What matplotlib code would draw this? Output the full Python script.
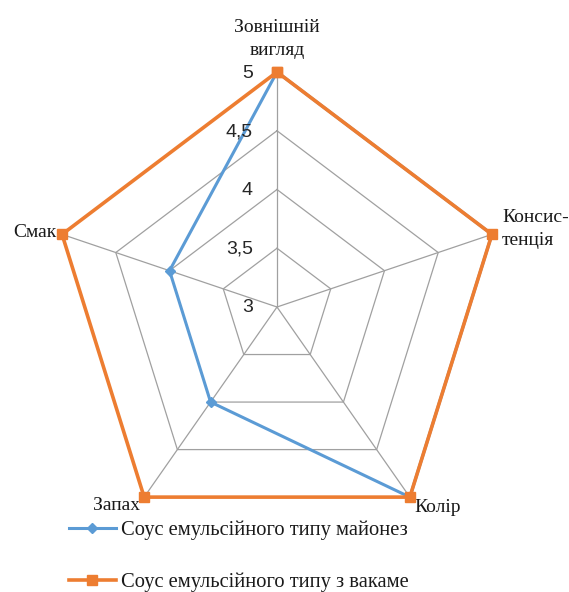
import numpy as np
import matplotlib
matplotlib.use("Agg")
import matplotlib.pyplot as plt

categories = ["Зовнішній\nвигляд", "Консис-\nтенція", "Колір", "Запах", "Смак"]
mayonnaise = [5, 5, 5, 4, 4]
wakame = [5, 5, 5, 5, 5]
series_names = ["Соус емульсійного типу майонез", "Соус емульсійного типу з вакаме"]
ring_values = [3.5, 4, 4.5, 5]
tick_values = [3, 3.5, 4, 4.5, 5]
tick_labels = ["3", "3,5", "4", "4,5", "5"]

SERIF = ["Liberation Serif", "DejaVu Serif"]
SANS = ["Liberation Sans", "DejaVu Sans"]

fig = plt.figure(figsize=(5.69, 5.92), dpi=100)
ax = fig.add_axes([51/569, 50/592, 452/569, 470/592], projection="polar")
ax.set_aspect("auto")
ax.set_theta_offset(np.pi/2)
ax.set_theta_direction(-1)
ax.set_ylim(3, 5)
ax.set_xticks([])
ax.set_yticks([])
ax.grid(False)
ax.spines["polar"].set_visible(False)
ax.patch.set_alpha(0)

n = len(categories)
angles = np.arange(n) * 2*np.pi/n
closed = np.append(angles, angles[0])

grid_col = "#a0a0a0"
for rv in ring_values:
    ax.plot(closed, [rv]*(n+1), color=grid_col, lw=0.9, zorder=1)
for a in angles:
    ax.plot([a, a], [3, 5], color=grid_col, lw=0.9, zorder=1)

l1, = ax.plot(closed, mayonnaise + mayonnaise[:1], color="#5b9bd5", lw=2.2,
              marker="D", ms=5, zorder=3, label=series_names[0], clip_on=False)
l2, = ax.plot(closed, wakame + wakame[:1], color="#ed7d31", lw=2.6,
              marker="s", ms=7.5, zorder=4, label=series_names[1], clip_on=False)

for v, t in zip(tick_values, tick_labels):
    ax.annotate(t, xy=(0, v), xytext=(-24, -1), textcoords="offset pixels",
                ha="right", va="center", fontsize=14, family=SANS,
                color="#262626", annotation_clip=False)

label_offsets = [(0, 13, "center", "bottom"), (10, 5, "left", "center"),
                 (5, -10, "left", "center"), (-4, -8, "right", "center"),
                 (-6, 2, "right", "center")]
for a, lab, (dx, dy, ha, va) in zip(angles, categories, label_offsets):
    ax.annotate(lab, xy=(a, 5), xytext=(dx, dy), textcoords="offset pixels",
                ha=ha, va=va, fontsize=14, family=SERIF, color="#1a1a1a",
                linespacing=1.45, annotation_clip=False)

leg = fig.legend(handles=[l1, l2], loc="upper left",
                 bbox_to_anchor=(50/569, 1 - 502/592), frameon=False,
                 prop={"family": SERIF, "size": 14.8}, handlelength=2.3,
                 handletextpad=0.25, labelspacing=1.6)
for t in leg.get_texts():
    t.set_color("#1a1a1a")

fig.savefig("out.png", dpi=100)
